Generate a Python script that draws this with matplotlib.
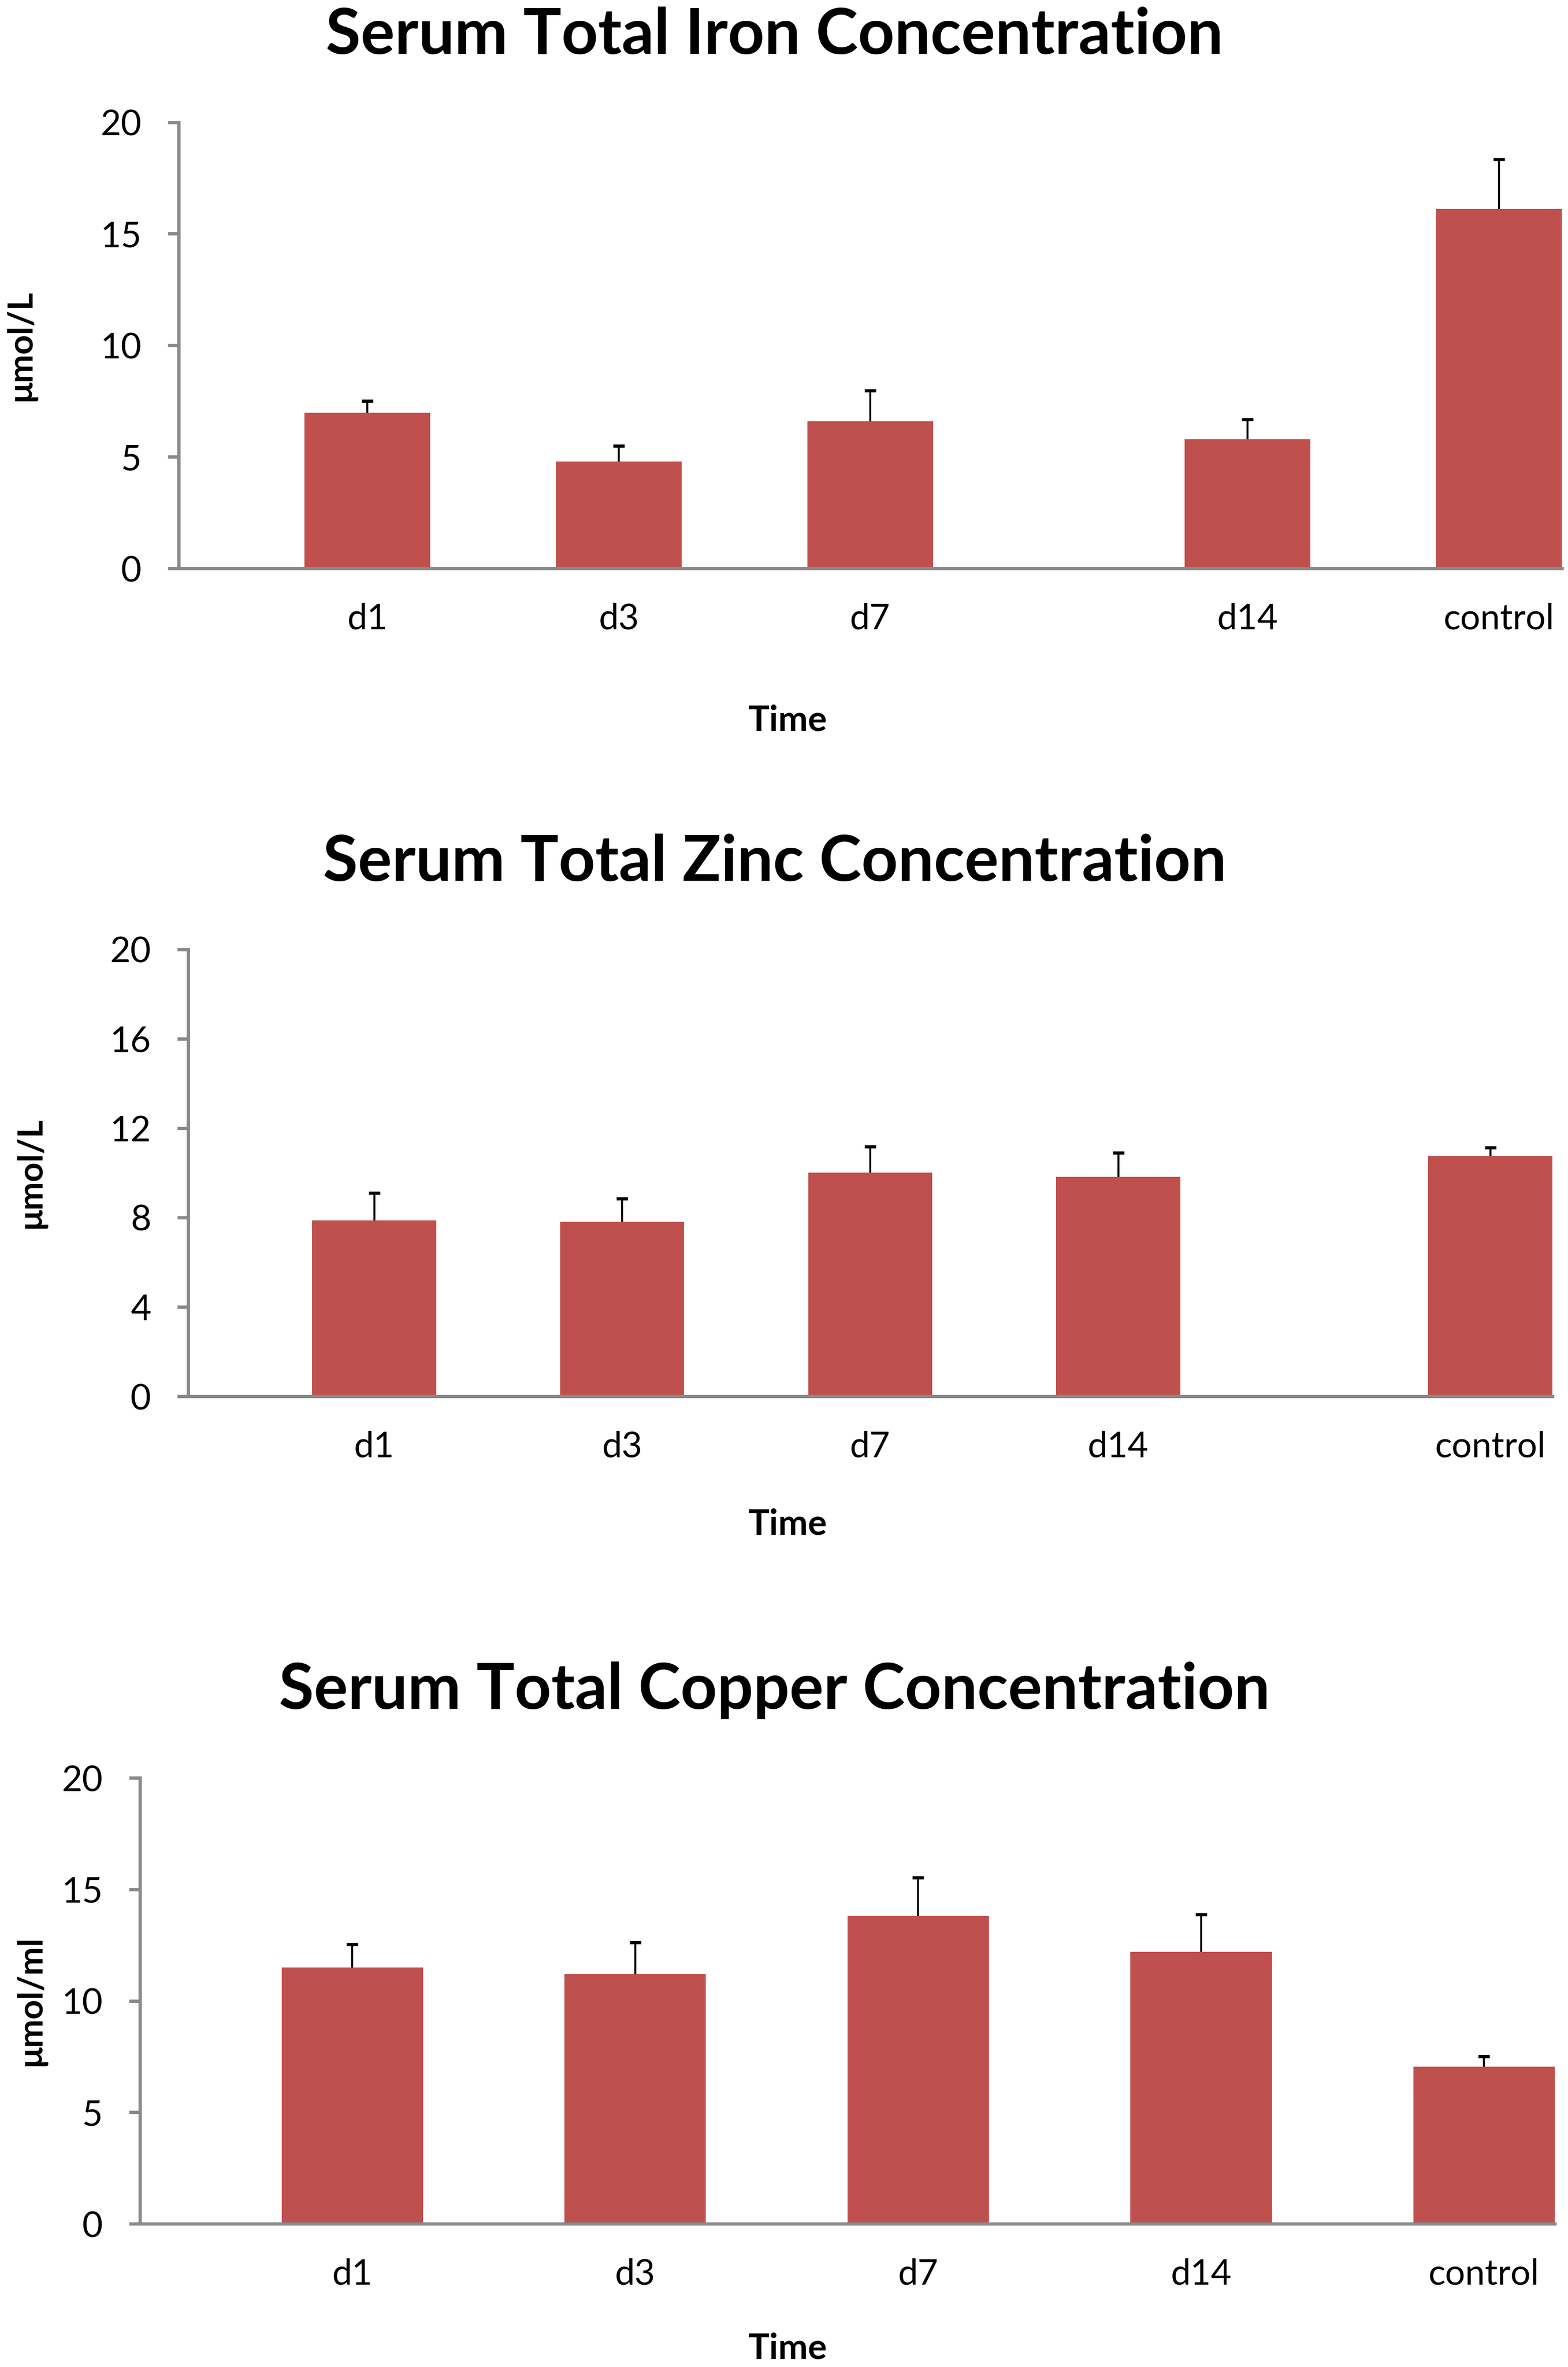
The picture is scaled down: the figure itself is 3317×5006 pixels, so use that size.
import numpy as np
import matplotlib
matplotlib.use("Agg")
import matplotlib.pyplot as plt

plt.rcParams['font.family'] = ['Lato', 'DejaVu Sans']

# Data
iron_labels = ["d1", "d3", "d7", "d14", "control"]
iron_mean = [6.98, 4.79, 6.59, 5.79, 16.12]
iron_err = [0.52, 0.71, 1.38, 0.90, 2.22]

zinc_labels = ["d1", "d3", "d7", "d14", "control"]
zinc_mean = [7.88, 7.80, 10.00, 9.81, 10.76]
zinc_err = [1.23, 1.05, 1.18, 1.09, 0.38]

copper_labels = ["d1", "d3", "d7", "d14", "control"]
copper_mean = [11.50, 11.19, 13.80, 12.20, 7.05]
copper_err = [1.03, 1.42, 1.73, 1.67, 0.45]

BAR = '#C0504D'
AXC = '#898989'

fig = plt.figure(figsize=(33.17, 50.06), dpi=100)

# panel layout: axes rect, slot positions, y ticks, ylabel, title baseline, xlabel baseline, ylabel x
panels = [
    dict(title="Serum Total Iron Concentration", labels=iron_labels, mean=iron_mean, err=iron_err,
         rect=[0.114, 0.7598, 0.882, 0.18856], slots=[1, 2, 3, 4.5, 5.5], yticks=[0, 5, 10, 15, 20],
         ylabel="μmol/L", title_y=0.9772, time_y=0.6912, ylab_x=0.0136),
    dict(title="Serum Total Zinc Concentration", labels=zinc_labels, mean=zinc_mean, err=zinc_err,
         rect=[0.120, 0.4101, 0.870, 0.1888], slots=[1, 2, 3, 4, 5.5], yticks=[0, 4, 8, 12, 16, 20],
         ylabel="μmol/L", title_y=0.6278, time_y=0.3516, ylab_x=0.020),
    dict(title="Serum Total Copper Concentration", labels=copper_labels, mean=copper_mean, err=copper_err,
         rect=[0.0893, 0.0605, 0.9023, 0.1884], slots=[1, 2, 3, 4, 5], yticks=[0, 5, 10, 15, 20],
         ylabel="μmol/ml", title_y=0.2780, time_y=0.0035, ylab_x=0.020),
]

for p in panels:
    ax = fig.add_axes(p['rect'])
    x = np.array(p['slots'], dtype=float)
    ax.bar(x, p['mean'], width=0.5, color=BAR, edgecolor='none', zorder=1)
    yerr = [np.zeros(len(p['err'])), p['err']]
    _, caps, _ = ax.errorbar(x, p['mean'], yerr=yerr, fmt='none', ecolor='black',
                             elinewidth=3.0, capsize=8.9, capthick=4.8, zorder=3)
    # only the upper cap is shown
    for c in caps:
        if np.allclose(c.get_ydata(), p['mean']):
            c.set_visible(False)
    ax.set_xlim(0.25, x[-1] + 0.25)
    ax.set_ylim(0, 20)
    ax.set_yticks(p['yticks'])
    ax.set_xticks(x)
    ax.set_xticklabels(p['labels'])
    for s in ['top', 'right']:
        ax.spines[s].set_visible(False)
    for s in ['left', 'bottom']:
        ax.spines[s].set_color(AXC)
        ax.spines[s].set_linewidth(5)
    ax.tick_params(axis='y', direction='out', length=16.5, width=5, color=AXC,
                   labelsize=54, pad=40)
    ax.tick_params(axis='x', length=0, labelsize=54, pad=52)
    ax.set_ylabel(p['ylabel'], fontsize=52, fontweight='bold')
    ax.yaxis.set_label_coords(p['ylab_x'], p['rect'][1] + p['rect'][3] / 2,
                              transform=fig.transFigure)
    ax.yaxis.label.set_va('center')
    ax.set_xlabel("Time", fontsize=54, fontweight='bold')
    ax.xaxis.set_label_coords(0.5025, p['time_y'], transform=fig.transFigure)
    ax.xaxis.label.set_va('baseline')
    fig.text(0.494, p['title_y'], p['title'], ha='center', va='baseline',
             fontsize=97, fontweight='bold')

fig.savefig("out.png", dpi=100)
